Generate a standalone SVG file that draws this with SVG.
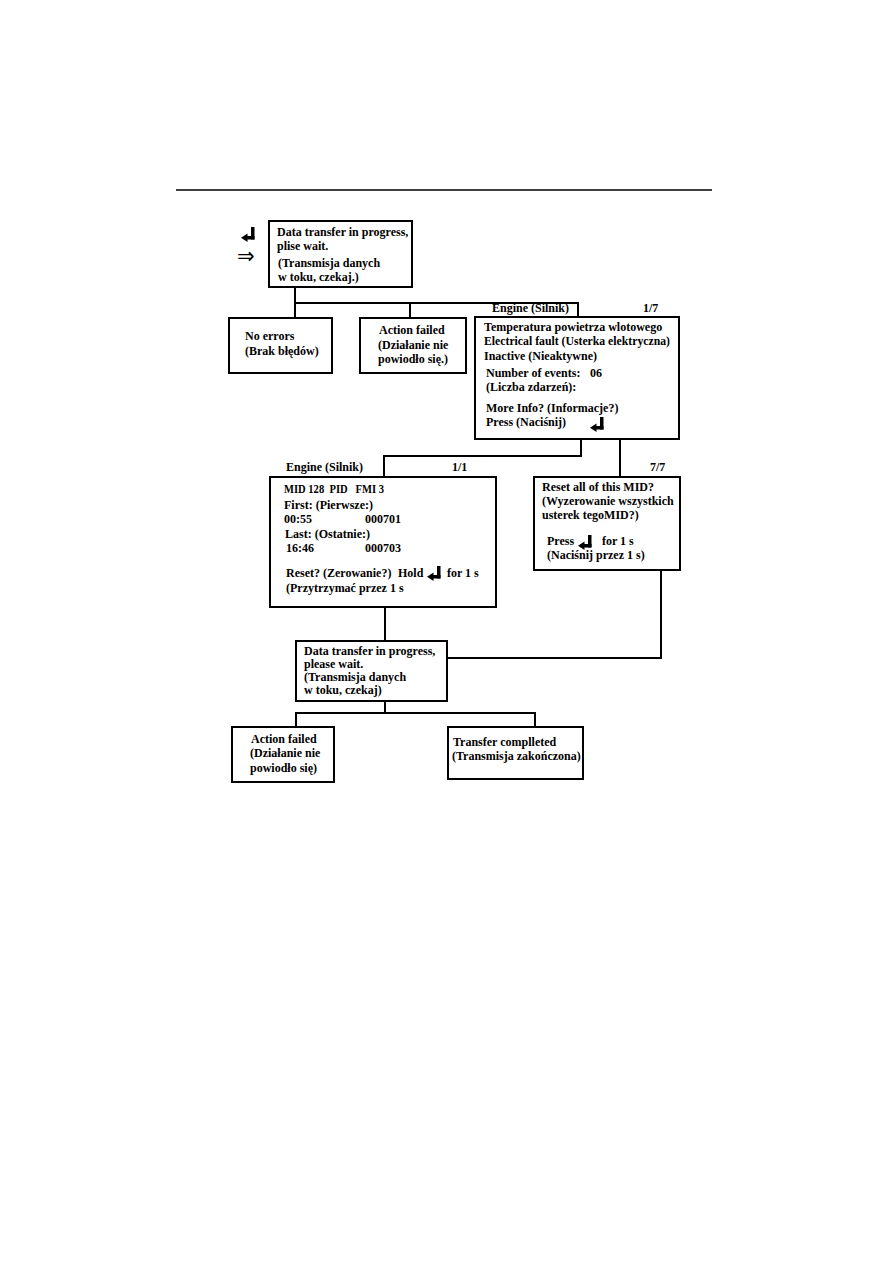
<svg xmlns="http://www.w3.org/2000/svg" xmlns:xlink="http://www.w3.org/1999/xlink" width="893" height="1263" viewBox="0 0 893 1263">
<style>
.box{fill:#fff;stroke:#000;stroke-width:2}
.ln{fill:none;stroke:#000;stroke-width:2}
text{font-family:"Liberation Serif","Times New Roman",serif;font-weight:bold;font-size:12px;fill:#000}
.sym{font-family:"DejaVu Sans",sans-serif;font-weight:normal;font-size:21px}
</style>
<defs>
<g id="enter">
<rect x="10" y="0" width="3.5" height="12.5"/>
<rect x="5" y="9" width="8.5" height="3.5"/>
<polygon points="0,10.75 6.5,6.5 6.5,15"/>
</g>
</defs>
<rect width="893" height="1263" fill="#fff"/>
<line x1="176" y1="190" x2="712" y2="190" stroke="#000" stroke-width="1.5"/>

<g id="connectors">
<polyline class="ln" points="295,287 295,318"/>
<polyline class="ln" points="295,303 578,303 578,317"/>
<polyline class="ln" points="410,303 410,318"/>
<polyline class="ln" points="581,439 581,456 384,456 384,477"/>
<polyline class="ln" points="620,439 620,477"/>
<polyline class="ln" points="385,607 385,641"/>
<polyline class="ln" points="661,570 661,658 447,658"/>
<polyline class="ln" points="385,701 385,713"/>
<polyline class="ln" points="296,727 296,713 535,713 535,727"/>
</g>

<g id="start">
<use xlink:href="#enter" x="241" y="227"/>
<text class="sym" x="237" y="263">⇒</text>
</g>

<g id="n1">
<rect class="box" x="269" y="221" width="143" height="66"/>
<text x="277" y="236">Data transfer in progress,</text>
<text x="277" y="250">plise wait.</text>
<text x="278" y="267">(Transmisja danych</text>
<text x="278" y="281">w toku, czekaj.)</text>
</g>

<g id="n2">
<rect class="box" x="229" y="318" width="103" height="55"/>
<text x="245" y="340">No errors</text>
<text x="245" y="355">(Brak błędów)</text>
</g>

<g id="n3">
<rect class="box" x="360" y="318" width="106" height="55"/>
<text x="379" y="334">Action failed</text>
<text x="378" y="349">(Działanie nie</text>
<text x="378" y="363">powiodło się.)</text>
</g>

<g id="n4">
<text x="492" y="312">Engine (Silnik)</text>
<text x="643" y="312">1/7</text>
<rect class="box" x="475" y="317" width="204" height="122"/>
<text x="484" y="331">Temperatura powietrza wlotowego</text>
<text x="484" y="345" textLength="186" lengthAdjust="spacingAndGlyphs">Electrical fault (Usterka elektryczna)</text>
<text x="484" y="360">Inactive (Nieaktywne)</text>
<text x="486" y="377">Number of events:</text>
<text x="590" y="377">06</text>
<text x="486" y="391">(Liczba zdarzeń):</text>
<text x="486" y="412">More Info? (Informacje?)</text>
<text x="486" y="426">Press (Naciśnij)</text>
<use xlink:href="#enter" x="590" y="417"/>
</g>

<g id="n5">
<text x="286" y="471">Engine (Silnik)</text>
<text x="452" y="471">1/1</text>
<rect class="box" x="270" y="477" width="226" height="130"/>
<text x="284" y="493" xml:space="preserve" textLength="100" lengthAdjust="spacingAndGlyphs">MID 128  PID   FMI 3</text>
<text x="284" y="509">First: (Pierwsze:)</text>
<text x="284" y="523">00:55</text>
<text x="365" y="523">000701</text>
<text x="285" y="538">Last: (Ostatnie:)</text>
<text x="286" y="552">16:46</text>
<text x="365" y="552">000703</text>
<text x="286" y="577">Reset? (Zerowanie?)</text>
<text x="398" y="577">Hold</text>
<use xlink:href="#enter" x="427" y="566"/>
<text x="447" y="577">for 1 s</text>
<text x="286" y="592">(Przytrzymać przez 1 s</text>
</g>

<g id="n6">
<text x="650" y="471">7/7</text>
<rect class="box" x="534" y="477" width="146" height="93"/>
<text x="542" y="491">Reset all of this MID?</text>
<text x="542" y="505">(Wyzerowanie wszystkich</text>
<text x="542" y="519">usterek tegoMID?)</text>
<text x="547" y="545">Press</text>
<use xlink:href="#enter" x="578" y="535"/>
<text x="602" y="545">for 1 s</text>
<text x="547" y="559">(Naciśnij przez 1 s)</text>
</g>

<g id="n7">
<rect class="box" x="296" y="641" width="151" height="60"/>
<text x="304" y="655">Data transfer in progress,</text>
<text x="304" y="668">please wait.</text>
<text x="304" y="681">(Transmisja danych</text>
<text x="304" y="694">w toku, czekaj)</text>
</g>

<g id="n8">
<rect class="box" x="232" y="727" width="102" height="55"/>
<text x="251" y="743">Action failed</text>
<text x="250" y="757">(Działanie nie</text>
<text x="250" y="772">powiodło się)</text>
</g>

<g id="n9">
<rect class="box" x="448" y="727" width="135" height="52"/>
<text x="453" y="746">Transfer complleted</text>
<text x="452" y="760">(Transmisja zakończona)</text>
</g>
</svg>
